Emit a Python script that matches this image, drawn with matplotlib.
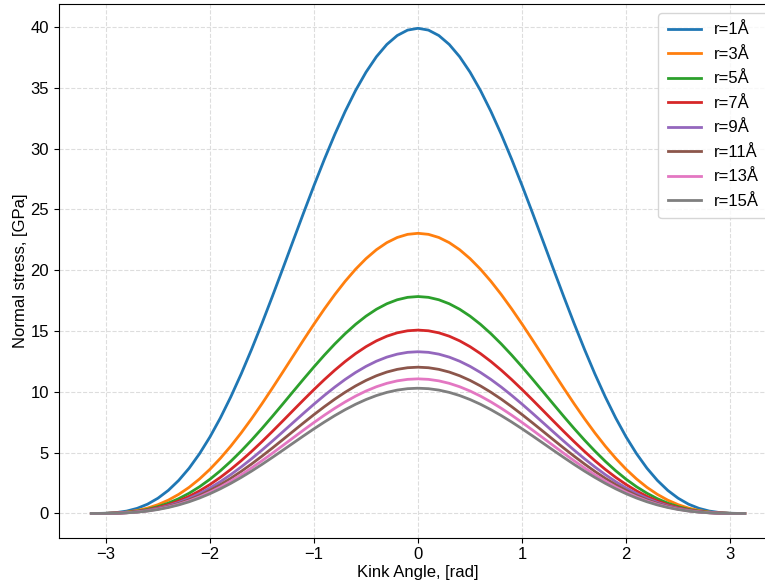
import matplotlib.pyplot as plt
import numpy as np

plt.rcParams['font.family'] = ['Liberation Sans', 'DejaVu Sans']

# Kink angle (rad)
theta = [-3.14, -3.1, -3.0, -2.9, -2.8, -2.7, -2.6, -2.5, -2.4, -2.3, -2.2, -2.1, -2.0, -1.9, -1.8, -1.7,
         -1.6, -1.5, -1.4, -1.3, -1.2, -1.1, -1.0, -0.9, -0.8, -0.7, -0.6, -0.5, -0.4, -0.3, -0.2, -0.1,
         0.0, 0.1, 0.2, 0.3, 0.4, 0.5, 0.6, 0.7, 0.8, 0.9, 1.0, 1.1, 1.2, 1.3, 1.4, 1.5,
         1.6, 1.7, 1.8, 1.9, 2.0, 2.1, 2.2, 2.3, 2.4, 2.5, 2.6, 2.7, 2.8, 2.9, 3.0, 3.1, 3.14]

# common shape of the curves, stress / peak stress
profile = [0.0000, 0.0000, 0.0004, 0.0018, 0.0049, 0.0105, 0.0191, 0.0314, 0.0476, 0.0682, 0.0933, 0.1232,
           0.1577, 0.1968, 0.2402, 0.2875, 0.3382, 0.3917, 0.4474, 0.5045, 0.5622, 0.6196, 0.6759, 0.7301,
           0.7814, 0.8289, 0.8719, 0.9096, 0.9414, 0.9667, 0.9851, 0.9963,
           1.0000,
           0.9963, 0.9851, 0.9667, 0.9414, 0.9096, 0.8719, 0.8289, 0.7814, 0.7301, 0.6759, 0.6196, 0.5622,
           0.5045, 0.4474, 0.3917, 0.3382, 0.2875, 0.2402, 0.1968, 0.1577, 0.1232, 0.0933, 0.0682, 0.0476,
           0.0314, 0.0191, 0.0105, 0.0049, 0.0018, 0.0004, 0.0000, 0.0000]

# radius (Angstrom) and peak normal stress at zero kink angle (GPa)
radii = [1, 3, 5, 7, 9, 11, 13, 15]
peak_stress = [39.90, 23.04, 17.84, 15.08, 13.30, 12.03, 11.07, 10.30]

fig = plt.figure(figsize=(7.65, 5.86), dpi=100)
ax = fig.add_axes([0.0767, 0.0824, 0.9395, 0.9107])

for r, p in zip(radii, peak_stress):
    ax.plot(theta, p * np.array(profile), '-', lw=2, label=f'r={r}Å')

ax.set_xlabel('Kink Angle, [rad]', fontsize=12, labelpad=2)
ax.set_ylabel('Normal stress, [GPa]', fontsize=12, labelpad=2)
ax.tick_params(labelsize=12)
ax.grid(True, ls='--', color='#dddddd', lw=0.8)
ax.legend(fontsize=12, loc='upper right', labelspacing=0.57, borderpad=0.55,
          borderaxespad=0.55)

fig.savefig('out.png', dpi=100)
